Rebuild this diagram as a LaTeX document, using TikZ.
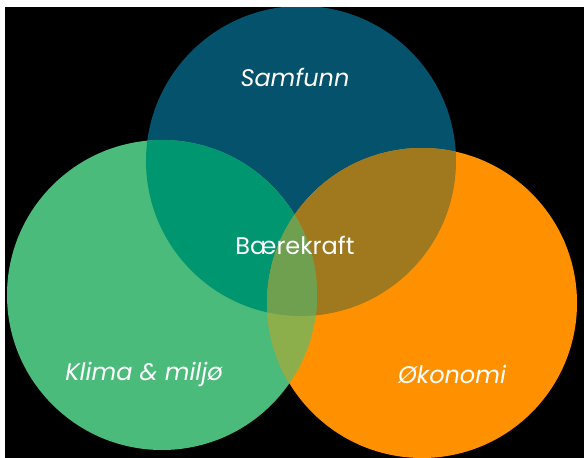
\documentclass[tikz,border=0pt]{standalone}
\usepackage{fontspec}
\setmainfont{Poppins}
\definecolor{samfunn}{HTML}{05526C}
\definecolor{klima}{HTML}{4ABB7A}
\definecolor{okonomi}{HTML}{FF9100}
\definecolor{samklima}{HTML}{009670}
\definecolor{samokonomi}{HTML}{A0781E}
\definecolor{klimaokonomi}{HTML}{8CAF4B}
\definecolor{alle}{HTML}{6EA050}
\newcommand{\samdisc}{(301,161) circle [radius=155]}
\newcommand{\klimadisc}{(162,295) circle [radius=155]}
\newcommand{\okodisc}{(422,303) circle [radius=155]}
\tikzset{label/.style={text=white,font=\fontsize{24}{28}\selectfont},
  ilabel/.style={label,font=\fontsize{24}{28}\selectfont\itshape}}

\begin{document}
\begin{tikzpicture}[x=1pt,y=-1pt]
  \fill[white] (0,0) rectangle (584,458);
  \fill[black] (5,7) rectangle (584,458);
  \begin{scope}
    \clip (5,7) rectangle (584,458);
    \fill[samfunn] \samdisc;
    \fill[klima] \klimadisc;
    \fill[okonomi] \okodisc;
    \begin{scope}
      \clip \samdisc;
      \fill[samklima] \klimadisc;
      \fill[samokonomi] \okodisc;
    \end{scope}
    \begin{scope}
      \clip \klimadisc;
      \fill[klimaokonomi] \okodisc;
      \clip \samdisc;
      \fill[alle] \okodisc;
    \end{scope}
  \end{scope}
  \node[ilabel] (samfunn) at (295,77) {Samfunn};
  \node[label] (baerekraft) at (295,245) {Bærekraft};
  \node[ilabel] (klima) at (144,374) {Klima \& miljø};
  \node[ilabel] (okonomi) at (452,374) {Økonomi};
\end{tikzpicture}
\end{document}
